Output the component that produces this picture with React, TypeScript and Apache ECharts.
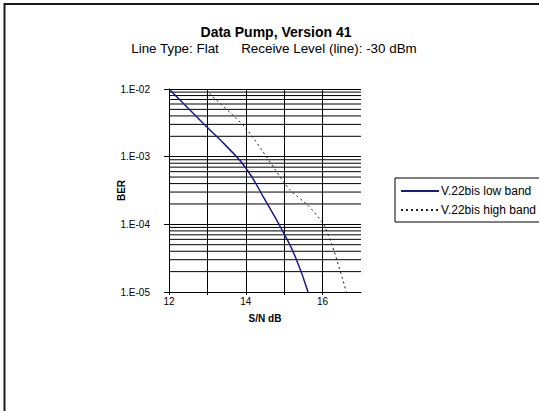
import React, { useEffect, useRef } from "react";
import * as echarts from "echarts";

const titleText = "Data Pump, Version 41";
const subtitleText = "Line Type: Flat      Receive Level (line): -30 dBm";

const seriesNames = ["V.22bis low band", "V.22bis high band"];

const lowBandX = [12, 12.5, 13, 13.5, 14, 14.5, 15, 15.3, 15.62];
const lowBandY = [1e-2, 5.2e-3, 2.7e-3, 1.42e-3, 6.8e-4, 2.3e-4, 7.2e-5, 3.2e-5, 1e-5];

const highBandX = [13.05, 14, 15, 15.15, 15.62, 16.03, 16.3, 16.62];
const highBandY = [8.5e-3, 2.65e-3, 4.1e-4, 3.2e-4, 1.9e-4, 1.0e-4, 4.0e-5, 1.0e-5];

const xRange = [12, 17];
const xTickValues = [12, 14, 16];
const xTickLabels = ["12", "14", "16"];

const yTickValues = [1e-5, 1e-4, 1e-3, 1e-2];
const yTickLabels = ["1.E-05", "1.E-04", "1.E-03", "1.E-02"];

const minorDecades = [1e-5, 1e-4, 1e-3];
const minorMultipliers = [2, 3, 4, 5, 6, 7, 8, 9];

const FONT = "'Liberation Sans', Arial, sans-serif";

export default function App() {
  const ref = useRef<HTMLDivElement>(null);

  useEffect(() => {
    if (!ref.current) return;
    const chart = echarts.init(ref.current, null, { renderer: "svg" });

    const minorGridData: any[] = [];
    minorDecades.forEach((d) =>
      minorMultipliers.forEach((m) => {
        const v = m * d;
        minorGridData.push([xRange[0], v], [xRange[1], v], [xRange[1], "-"]);
      })
    );

    const option: any = {
      animation: false,
      backgroundColor: "#ffffff",
      textStyle: { fontFamily: FONT },
      graphic: [
        {
          type: "rect",
          shape: { x: 4.5, y: 4, width: 1000, height: 1000 },
          style: { fill: "none", stroke: "#1a1a1a", lineWidth: 2 },
          silent: true,
        },
        {
          type: "text",
          x: 276,
          y: 32,
          style: {
            text: titleText,
            fill: "#000",
            font: `bold 14px ${FONT}`,
            align: "center",
            verticalAlign: "middle",
          },
        },
        {
          type: "text",
          x: 274,
          y: 48.5,
          style: {
            text: subtitleText,
            fill: "#000",
            font: `13.4px ${FONT}`,
            align: "center",
            verticalAlign: "middle",
          },
        },
      ],
      legend: {
        data: seriesNames,
        orient: "vertical",
        left: 395,
        top: 178,
        padding: [7, 20, 6, 5],
        itemWidth: 38,
        itemHeight: 10,
        itemGap: 7,
        borderColor: "#000",
        borderWidth: 1,
        borderRadius: 0,
        selectedMode: false,
        itemStyle: { opacity: 0 },
        textStyle: { fontFamily: FONT, fontSize: 12, color: "#000", padding: [0, 0, 0, -3] },
      },
      grid: { left: 169, right: 178, top: 89, bottom: 119, containLabel: false },
      xAxis: {
        type: "value",
        min: xRange[0],
        max: xRange[1],
        interval: 1,
        name: "S/N dB",
        nameLocation: "middle",
        nameGap: 21,
        nameMoveOverlap: false,
        nameTextStyle: { fontFamily: FONT, fontSize: 10, fontWeight: "bold", color: "#000" },
        axisLine: { show: true, onZero: false, lineStyle: { color: "#000", width: 1 } },
        axisTick: { show: true, inside: false, length: 3, lineStyle: { color: "#000" } },
        axisLabel: {
          margin: 4,
          fontFamily: FONT,
          fontSize: 10,
          color: "#000",
          showMaxLabel: false,
          formatter: (v: number) => {
            const i = xTickValues.indexOf(v);
            return i >= 0 ? xTickLabels[i] : "";
          },
        },
        splitLine: { show: true, showMaxLine: false, lineStyle: { color: "#000", width: 1 } },
      },
      yAxis: {
        type: "log",
        logBase: 10,
        min: 1e-5,
        max: 1e-2,
        name: "BER",
        nameLocation: "middle",
        nameGap: 43,
        nameMoveOverlap: false,
        nameTextStyle: { fontFamily: FONT, fontSize: 10, fontWeight: "bold", color: "#000" },
        axisLine: { show: true, lineStyle: { color: "#000", width: 1 } },
        axisTick: { show: true, inside: false, length: 5, lineStyle: { color: "#000" } },
        axisLabel: {
          margin: 19,
          fontFamily: FONT,
          fontSize: 10,
          color: "#000",
          formatter: (v: number) => {
            const i = yTickValues.findIndex((t) => Math.abs(Math.log10(t) - Math.log10(v)) < 1e-6);
            return i >= 0 ? yTickLabels[i] : "";
          },
        },
        splitLine: { show: true, lineStyle: { color: "#000", width: 1 } },
      },
      series: [
        {
          name: "minor grid",
          type: "line",
          data: minorGridData,
          showSymbol: false,
          symbol: "none",
          connectNulls: false,
          lineStyle: { color: "#000", width: 1 },
          z: 1,
          silent: true,
          tooltip: { show: false },
        },
        {
          name: seriesNames[0],
          type: "line",
          z: 3,
          symbol: "none",
          smooth: 0.5,
          data: lowBandX.map((x, i) => [x, lowBandY[i]]),
          lineStyle: { color: "#1a1a8c", width: 1.5 },
          itemStyle: { color: "#1a1a8c" },
        },
        {
          name: seriesNames[1],
          type: "line",
          z: 3,
          symbol: "none",
          smooth: 0.2,
          data: highBandX.map((x, i) => [x, highBandY[i]]),
          lineStyle: { color: "#222", width: 1, type: [2, 3] },
          itemStyle: { color: "#222" },
        },
      ],
    };

    chart.setOption(option);
    return () => chart.dispose();
  }, []);

  return (
    <div
      ref={ref}
      style={{ position: "absolute", left: 0, top: 0, width: 539, height: 411 }}
    />
  );
}
